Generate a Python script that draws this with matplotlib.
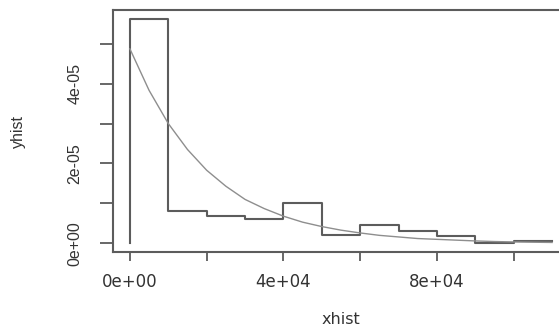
import numpy as np
import matplotlib
matplotlib.use('Agg')
import matplotlib.pyplot as plt

# histogram bins (xhist) and densities (yhist)
bin_edges = [0, 10000, 20000, 30000, 40000, 50000, 60000, 70000, 80000, 90000, 100000, 110000]
bin_density = [5.61e-5, 0.82e-5, 0.68e-5, 0.61e-5, 1.02e-5, 0.20e-5,
               0.47e-5, 0.32e-5, 0.19e-5, 0.02e-5, 0.065e-5]

# fitted density curve
curve_x = [0, 5000, 10000, 15000, 20000, 25000, 30000, 35000, 40000, 45000, 50000,
           55000, 60000, 65000, 70000, 75000, 80000, 85000, 90000, 95000, 100000,
           105000, 110000]
curve_y = [4.87e-5, 3.83e-5, 3.00e-5, 2.35e-5, 1.83e-5, 1.43e-5, 1.10e-5, 0.87e-5,
           0.68e-5, 0.53e-5, 0.42e-5, 0.33e-5, 0.26e-5, 0.20e-5, 0.16e-5, 0.12e-5,
           0.10e-5, 0.08e-5, 0.06e-5, 0.045e-5, 0.035e-5, 0.028e-5, 0.022e-5]

x_ticks = [0, 20000, 40000, 60000, 80000, 100000]
x_ticklabels = ['0e+00', '', '4e+04', '', '8e+04', '']
y_ticks = [0, 1e-5, 2e-5, 3e-5, 4e-5, 5e-5]
y_ticklabels = ['0e+00', '', '2e-05', '', '4e-05', '']

box_col = '#5c5c5c'
text_col = '#333333'

fig = plt.figure(figsize=(5.59, 3.29), dpi=100)
# plot region runs past the right edge, as in the cropped original
ax = fig.add_axes([113 / 559, 1 - 252.3 / 329, 456 / 559, 242 / 329])

# step outline: start at (0, 0), rise, then follow the bins
sx = [bin_edges[0]] + bin_edges
sy = [0] + bin_density + [bin_density[-1]]
ax.plot(sx, sy, drawstyle='steps-post', color=box_col, lw=1.5)
ax.plot(curve_x, curve_y, color='#8e8e8e', lw=1.0)

# R-style 4% padding
xr = bin_edges[-1] - bin_edges[0]
ax.set_xlim(bin_edges[0] - 0.04 * xr, bin_edges[-1] + 0.04 * xr)
yr = max(bin_density)
ax.set_ylim(-0.04 * yr, yr * 1.04)

for s in ax.spines.values():
    s.set_color(box_col)
    s.set_linewidth(1.5)

ax.set_xticks(x_ticks)
ax.set_xticklabels(x_ticklabels, family='DejaVu Sans', fontsize=12, color=text_col)
ax.set_yticks(y_ticks)
ax.set_yticklabels(y_ticklabels, family='Liberation Sans', fontsize=11.5, color=text_col,
                   rotation=90, va='center')
ax.tick_params(axis='x', length=6.7, width=1.3, color=box_col, pad=8.0)
ax.tick_params(axis='y', length=9.4, width=1.3, color=box_col, pad=12.5)

ax.set_xlabel('xhist', family='DejaVu Sans', fontsize=11.5, color=text_col)
ax.set_ylabel('yhist', family='Liberation Sans', fontsize=11.5, color=text_col)
ax.xaxis.set_label_coords(0.5, -0.245)
ax.yaxis.set_label_coords(-0.19, 0.5)

fig.savefig('out.png', dpi=100)
